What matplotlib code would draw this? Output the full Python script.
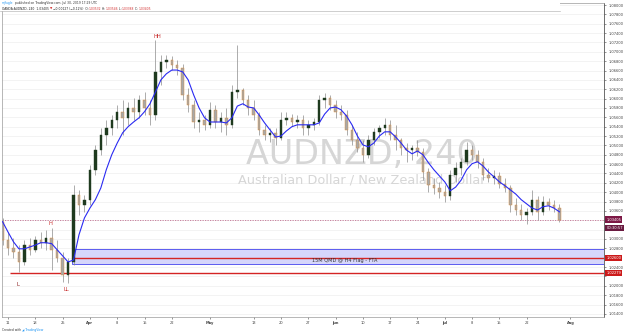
import numpy as np
import pandas as pd
import matplotlib
matplotlib.use("Agg")
import matplotlib.pyplot as plt
from matplotlib.patches import Rectangle
from matplotlib.ticker import MultipleLocator, FuncFormatter

# --- data (daily bars, Mar 8 - Jul 30 2019) -------------------------------
dates = pd.bdate_range("2019-03-08", "2019-07-30")
first_open = 1.0337
highs = [1.0345, 1.0315, 1.0302, 1.0287, 1.0298, 1.0302, 1.0307, 1.0315, 1.0320, 1.0324, 1.0298,
         1.0272, 1.0260, 1.0416, 1.0405, 1.0394, 1.0458, 1.0501, 1.0537, 1.0555, 1.0565,
         1.0587, 1.0597, 1.0593, 1.0602, 1.0608, 1.0614, 1.0597, 1.0725, 1.0693, 1.0693,
         1.0691, 1.0683, 1.0674, 1.0623, 1.0597, 1.0572, 1.0565, 1.0593, 1.0587, 1.0572,
         1.0580, 1.0629, 1.0715, 1.0623, 1.0608, 1.0597, 1.0572, 1.0544, 1.0537, 1.0537,
         1.0572, 1.0572, 1.0567, 1.0565, 1.0565, 1.0555, 1.0559, 1.0608, 1.0612, 1.0608,
         1.0597, 1.0587, 1.0576, 1.0544, 1.0529, 1.0512, 1.0522, 1.0537, 1.0544, 1.0559,
         1.0555, 1.0544, 1.0516, 1.0505, 1.0501, 1.0512, 1.0495, 1.0452, 1.0431, 1.0422,
         1.0416, 1.0448, 1.0465, 1.0473, 1.0508, 1.0501, 1.0490, 1.0473, 1.0452, 1.0448,
         1.0443, 1.0431, 1.0416, 1.0388, 1.0375, 1.0366, 1.0405, 1.0392, 1.0392, 1.0388,
         1.0384, 1.0375]
lows = [1.0287, 1.0266, 1.0260, 1.0230, 1.0245, 1.0266, 1.0272, 1.0281, 1.0277, 1.0234, 1.0251,
        1.0208, 1.0206, 1.0245, 1.0352, 1.0358, 1.0373, 1.0437, 1.0480, 1.0501, 1.0522,
        1.0537, 1.0522, 1.0544, 1.0555, 1.0559, 1.0565, 1.0544, 1.0555, 1.0629, 1.0666,
        1.0661, 1.0651, 1.0597, 1.0572, 1.0537, 1.0529, 1.0533, 1.0537, 1.0537, 1.0529,
        1.0522, 1.0537, 1.0602, 1.0587, 1.0565, 1.0555, 1.0522, 1.0512, 1.0508, 1.0501,
        1.0512, 1.0544, 1.0542, 1.0537, 1.0522, 1.0522, 1.0533, 1.0544, 1.0580, 1.0576,
        1.0559, 1.0555, 1.0522, 1.0501, 1.0486, 1.0465, 1.0473, 1.0501, 1.0516, 1.0522,
        1.0512, 1.0490, 1.0480, 1.0465, 1.0469, 1.0478, 1.0426, 1.0401, 1.0396, 1.0388,
        1.0379, 1.0384, 1.0422, 1.0437, 1.0458, 1.0469, 1.0452, 1.0426, 1.0422, 1.0418,
        1.0409, 1.0401, 1.0358, 1.0352, 1.0341, 1.0332, 1.0352, 1.0341, 1.0352, 1.0362,
        1.0358, 1.0337]
closes = [1.0298, 1.0281, 1.0272, 1.0251, 1.0287, 1.0277, 1.0298, 1.0292, 1.0302, 1.0277, 1.0260,
          1.0223, 1.0251, 1.0394, 1.0373, 1.0384, 1.0448, 1.0490, 1.0522, 1.0537, 1.0555,
          1.0572, 1.0559, 1.0580, 1.0572, 1.0597, 1.0580, 1.0565, 1.0657, 1.0679, 1.0683,
          1.0672, 1.0666, 1.0608, 1.0587, 1.0550, 1.0555, 1.0544, 1.0576, 1.0550, 1.0559,
          1.0544, 1.0614, 1.0619, 1.0597, 1.0580, 1.0565, 1.0533, 1.0522, 1.0527, 1.0516,
          1.0555, 1.0559, 1.0550, 1.0555, 1.0537, 1.0544, 1.0550, 1.0597, 1.0602, 1.0587,
          1.0572, 1.0565, 1.0533, 1.0512, 1.0495, 1.0480, 1.0512, 1.0529, 1.0537, 1.0544,
          1.0522, 1.0512, 1.0495, 1.0490, 1.0495, 1.0486, 1.0443, 1.0416, 1.0409, 1.0401,
          1.0392, 1.0437, 1.0452, 1.0465, 1.0490, 1.0480, 1.0465, 1.0437, 1.0431, 1.0435,
          1.0418, 1.0409, 1.0373, 1.0362, 1.0352, 1.0358, 1.0384, 1.0358, 1.0379, 1.0373,
          1.0366, 1.0341]
ma_line = [1.0337, 1.0315, 1.0294, 1.0279, 1.0279, 1.0283, 1.0287, 1.0292, 1.0292, 1.0290, 1.0277,
           1.0264, 1.0251, 1.0255, 1.0309, 1.0345, 1.0366, 1.0384, 1.0409, 1.0448, 1.0480,
           1.0505, 1.0527, 1.0540, 1.0550, 1.0559, 1.0572, 1.0589, 1.0614, 1.0640, 1.0653,
           1.0661, 1.0661, 1.0657, 1.0640, 1.0608, 1.0580, 1.0559, 1.0550, 1.0550, 1.0550,
           1.0548, 1.0559, 1.0584, 1.0589, 1.0582, 1.0580, 1.0565, 1.0548, 1.0533, 1.0518,
           1.0520, 1.0531, 1.0540, 1.0544, 1.0544, 1.0544, 1.0544, 1.0548, 1.0567, 1.0580,
           1.0582, 1.0576, 1.0563, 1.0544, 1.0520, 1.0501, 1.0497, 1.0505, 1.0520, 1.0529,
           1.0529, 1.0518, 1.0505, 1.0490, 1.0482, 1.0488, 1.0480, 1.0463, 1.0448, 1.0435,
           1.0422, 1.0403, 1.0411, 1.0426, 1.0448, 1.0461, 1.0465, 1.0456, 1.0443, 1.0433,
           1.0422, 1.0414, 1.0405, 1.0396, 1.0384, 1.0375, 1.0366, 1.0362, 1.0369, 1.0371,
           1.0366, 1.0358]

tick_dates = ["2019-03-11", "2019-03-18", "2019-03-25", "2019-04-01", "2019-04-08",
              "2019-04-15", "2019-04-22", "2019-05-01", "2019-05-13", "2019-05-20",
              "2019-05-27", "2019-06-03", "2019-06-10", "2019-06-17", "2019-06-24",
              "2019-07-01", "2019-07-08", "2019-07-15", "2019-07-22", "2019-08-01"]
tick_labels = ["11", "18", "25", "Apr", "8", "15", "22", "May", "13", "20", "27",
               "Jun", "10", "17", "24", "Jul", "8", "15", "22", "Aug"]
months = {"Apr", "May", "Jun", "Jul", "Aug"}

zone_top, zone_bot = 1.0279, 1.0246
zone_mid = 1.0260
support = 1.0228
last_price = 1.03405
zone_start = "2019-03-27"

# --- figure -----------------------------------------------------------------
fig = plt.figure(figsize=(6.25, 3.35), dpi=100)
ax = fig.add_axes([2 / 625, 1 - 317 / 335, 602 / 625, 314 / 335])
ax.set_xlim(-1.1, 109.16)
ax.set_ylim(1.01333, 1.08043)

calendar = pd.bdate_range("2019-03-08", "2019-08-30")
def pos(d):
    return calendar.get_loc(pd.Timestamp(d)) - 1

x = np.array([pos(d) for d in dates])
opens = [first_open] + closes[:-1]

ax.grid(axis="y", color="#eeeeee", lw=0.5, zorder=0)
ax.set_axisbelow(True)

# watermark
ax.text(0.598, 0.516, "AUDNZD, 240", transform=ax.transAxes, ha="center", va="center",
        fontsize=24, color="#d6d6d6", zorder=1)
ax.text(0.598, 0.436, "Australian Dollar / New Zealand Dollar", transform=ax.transAxes,
        ha="center", va="center", fontsize=9.3, color="#d6d6d6", zorder=1)

# zone + levels
x0 = pos(zone_start) - 0.2
ax.add_patch(Rectangle((x0, zone_bot), 200, zone_top - zone_bot, fc="#d6d6fb",
                       ec="#5c5cf0", lw=0.7, zorder=2))
ax.hlines(zone_mid, x0, 200, color="#d42424", lw=1.0, zorder=3)
ax.hlines(support, 0.3, 200, color="#d42424", lw=1.0, zorder=3)
ax.axhline(last_price, color="#c27092", lw=0.6, ls=(0, (1.5, 1.5)), zorder=2)
ax.text(61.7, (zone_mid + zone_bot) / 2, "15M QMD @ H4 Flag - FTA", ha="center",
        va="center", fontsize=3.6, color="#333333", zorder=4)

# candles
up = np.array(closes) >= np.array(opens)
ax.vlines(x, lows, highs, color="#8c8c8c", lw=0.5, zorder=4)
body_lo = np.minimum(opens, closes)
body_h = np.maximum(np.abs(np.array(closes) - np.array(opens)), 0.00004)
ax.bar(x[up], body_h[up], bottom=body_lo[up], width=0.45, color="#1f3a1f",
       edgecolor="#1f3a1f", lw=0.3, zorder=5)
ax.bar(x[~up], body_h[~up], bottom=body_lo[~up], width=0.45, color="#a8a8a8",
       edgecolor="#e08a2e", lw=0.3, zorder=5)

ax.plot(x, ma_line, color="#2a2af2", lw=0.8, zorder=6)

# swing labels
for tx, ty, s, col in [(27.4, 1.0733, "HH", "#c62828"), (7.8, 1.0333, "H", "#c62828"),
                       (1.9, 1.0203, "L", "#8b1a1a"), (10.6, 1.0191, "LL", "#c62828")]:
    ax.text(tx, ty, s, ha="center", va="center", fontsize=3.8, color=col, zorder=7)

# price tags on the right axis; plain tick labels under a tag are hidden
tags = [(last_price + 0.0001, "1.03405", "#7d1845"),
        (last_price - 0.0017, "00:30:57", "#6a1a40"),
        (zone_mid, "1.02600", "#cc1a1a"),
        (support, "1.02279", "#cc1a1a")]

def price_fmt(v, _):
    if any(abs(v - t[0]) < 0.0011 for t in tags):
        return ""
    return "%.5f" % v

ax.yaxis.tick_right()
ax.yaxis.set_major_locator(MultipleLocator(0.002))
ax.yaxis.set_major_formatter(FuncFormatter(price_fmt))
ax.tick_params(axis="y", labelsize=2.6, length=1.5, width=0.4, pad=1.5,
               colors="#444444")
ax.set_xticks([pos(d) for d in tick_dates])
ax.set_xticklabels(tick_labels)
ax.tick_params(axis="x", labelsize=2.6, length=1.5, width=0.4, pad=1.5,
               colors="#444444")
for lab in ax.get_xticklabels():
    if lab.get_text() in months:
        lab.set_fontweight("bold")
for side in ["left", "top", "bottom"]:
    ax.spines[side].set_color("#9a9a9a")
    ax.spines[side].set_linewidth(0.5)
ax.spines["right"].set_color("#555555")
ax.spines["right"].set_linewidth(0.6)

for ty, s, col in tags:
    ax.text(1.004, ty, s, transform=ax.get_yaxis_transform(), fontsize=2.6,
            color="white", ha="left", va="center", clip_on=False, zorder=10,
            bbox=dict(boxstyle="square,pad=0.3", fc=col, ec="none"))

# header band
fig.patches.append(Rectangle((0, 1 - 11 / 335), 560 / 625, 11 / 335,
                             transform=fig.transFigure, fc="white", ec="none", zorder=8))
fig.add_artist(plt.Line2D([0, 560 / 625], [1 - 11 / 335] * 2, color="#bbbbbb", lw=0.5))

renderer = fig.canvas.get_renderer()
def chain(x0, y0, parts, size=2.2):
    for s, col in parts:
        t = fig.text(x0, y0, s, color=col, fontsize=size, ha="left", va="center", zorder=9)
        x0 += t.get_window_extent(renderer=renderer).width / fig.bbox.width

chain(2 / 625, 1 - 3 / 335, [("mjfugle", "#2196f3"),
                             (" published on TradingView.com, Jul 30, 2019 17:29 UTC", "#333333")])
chain(2 / 625, 1 - 8.5 / 335, [("OANDA:AUDNZD, 240  1.03405 ", "#222222"), ("\u25bc", "#d32f2f"),
                               (" \u22120.00127 (\u22120.12%)  O:", "#222222"), ("1.03532", "#d32f2f"),
                               (" H:", "#222222"), ("1.03546", "#d32f2f"),
                               (" L:", "#222222"), ("1.03388", "#d32f2f"),
                               (" C:", "#222222"), ("1.03405", "#d32f2f")])
chain(2 / 625, 1 - 330 / 335, [("Created with ", "#333333"), ("\u25e2 TradingView", "#2196f3")])

fig.savefig("out.png", dpi=100, facecolor="white")
